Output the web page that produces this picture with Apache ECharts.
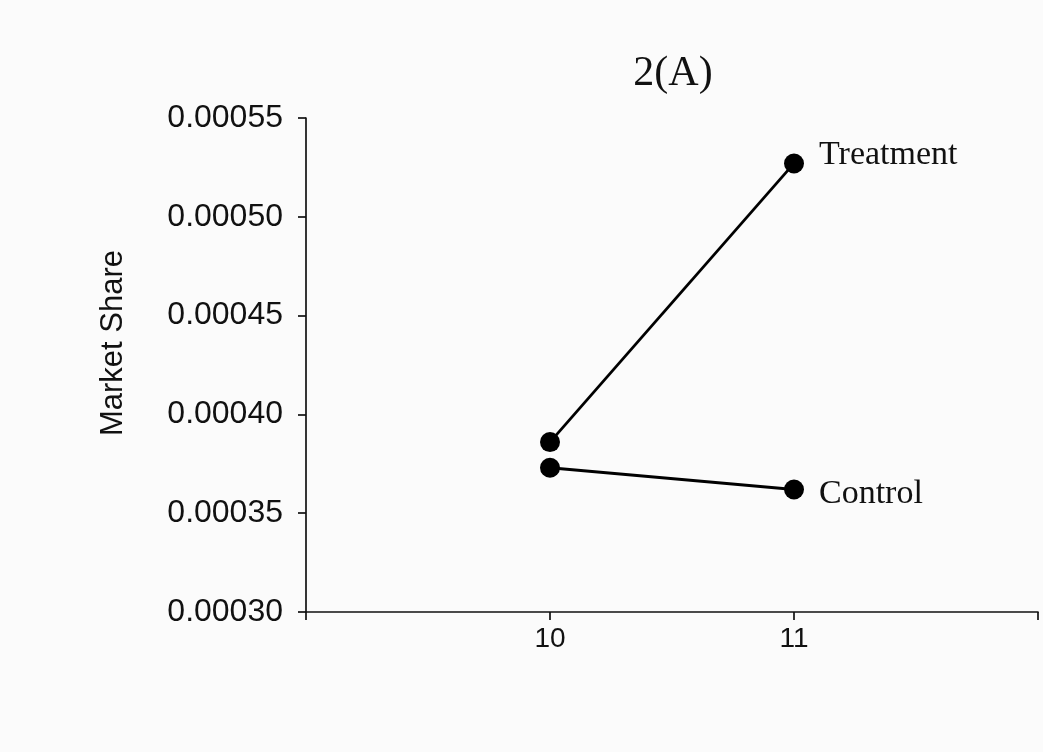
<!DOCTYPE html>
<html>
<head>
<meta charset="utf-8">
<script src="https://cdn.jsdelivr.net/npm/echarts@6/dist/echarts.min.js"></script>
<style>
  html, body { margin: 0; padding: 0; background: #fbfbfb; }
  #chart { width: 1043px; height: 752px; }
</style>
</head>
<body>
<div id="chart"></div>
<script>
// periods on the x axis
const periods = [10, 11]
// market share per group
const treatment = [0.000386, 0.000527]
const control = [0.000373, 0.000362]
const yTicks = [0.0003, 0.00055, 0.00005] // min, max, step

const chart = echarts.init(document.getElementById('chart'), null, { renderer: 'canvas' })

const pairs = (vals) => periods.map((p, i) => [p, vals[i]])

const seriesBase = {
  type: 'line',
  symbol: 'circle',
  symbolSize: 20,
  itemStyle: { color: '#000' },
  lineStyle: { color: '#000', width: 2.8 },
  emphasis: { disabled: true },
  animation: false,
}

const endLabel = (name, dy) => ({
  show: true,
  position: 'right',
  distance: 15,
  offset: [0, dy],
  formatter: (p) => (p.dataIndex === periods.length - 1 ? name : ''),
  fontFamily: '"Liberation Serif", "DejaVu Serif", serif',
  fontSize: 34,
  color: '#111',
})

const option = {
  backgroundColor: '#fbfbfb',
  title: {
    text: '2(A)',
    left: 668,
    top: 48,
    textAlign: 'center',
    textStyle: {
      fontFamily: '"Liberation Serif", "DejaVu Serif", serif',
      fontSize: 42,
      fontWeight: 'normal',
      color: '#111',
    },
  },
  grid: {
    left: 306,
    right: 5,
    top: 118,
    bottom: 140,
  },
  xAxis: {
    type: 'value',
    min: 9,
    max: 12,
    interval: 1,
    splitLine: { show: false },
    axisLine: { lineStyle: { color: '#111', width: 1.7 } },
    axisTick: { show: true, length: 8, lineStyle: { color: '#111', width: 1.7 } },
    axisLabel: {
      margin: 13,
      fontFamily: '"Liberation Sans", Arial, sans-serif',
      fontSize: 28,
      color: '#111',
      formatter: (v) => (periods.includes(v) ? String(v) : ''),
    },
  },
  yAxis: {
    type: 'value',
    min: yTicks[0],
    max: yTicks[1],
    interval: yTicks[2],
    name: 'Market Share',
    nameLocation: 'middle',
    nameGap: 177,
    nameTextStyle: {
      fontFamily: '"Liberation Sans", Arial, sans-serif',
      fontSize: 31,
      color: '#111',
      padding: [0, 0, 0, 44],
    },
    splitLine: { show: false },
    axisLine: { show: true, lineStyle: { color: '#111', width: 1.7 } },
    axisTick: { show: true, length: 8, lineStyle: { color: '#111', width: 1.7 } },
    axisLabel: {
      margin: 23,
      fontFamily: '"Liberation Sans", Arial, sans-serif',
      fontSize: 32,
      color: '#111',
      formatter: (v) => v.toFixed(5),
    },
  },
  series: [
    Object.assign({}, seriesBase, {
      name: 'Treatment',
      data: pairs(treatment),
      label: endLabel('Treatment', -8),
    }),
    Object.assign({}, seriesBase, {
      name: 'Control',
      data: pairs(control),
      label: endLabel('Control', 5),
    }),
  ],
}

chart.setOption(option, true)
</script>
</body>
</html>
